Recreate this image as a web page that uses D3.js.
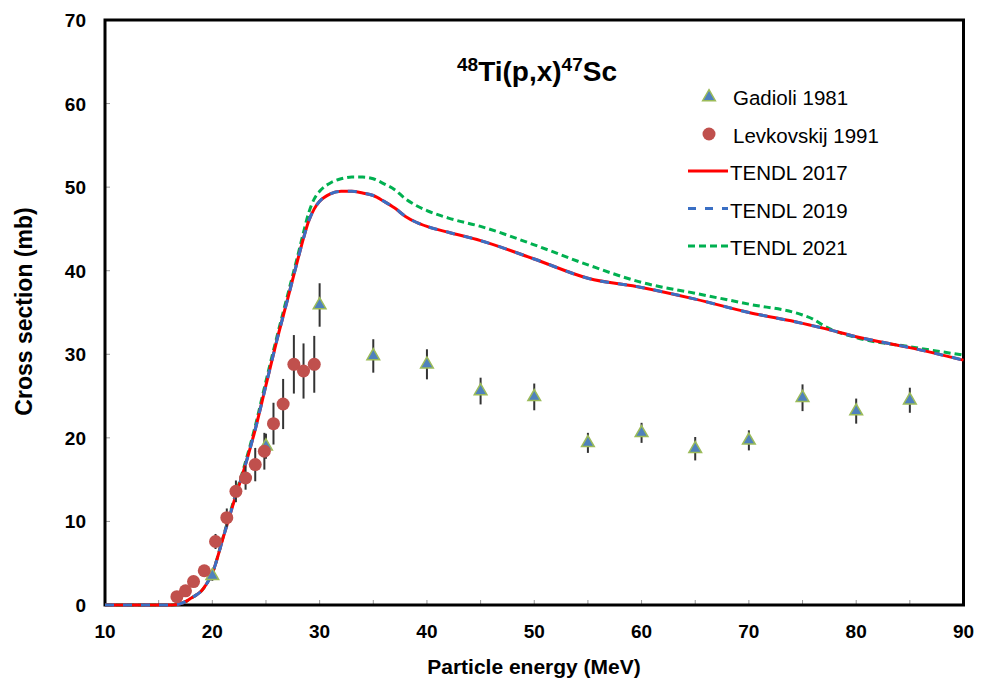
<!DOCTYPE html>
<html><head><meta charset="utf-8">
<script src="https://cdn.jsdelivr.net/npm/d3@7"></script>
<style>body{margin:0;background:#fff;} text{font-family:"Liberation Sans",Arial,sans-serif;}</style>
</head><body>
<svg id="chart" width="989" height="682"></svg>
<script>
// ---- data ----
const xTicks = [10,20,30,40,50,60,70,80,90];
const yTicks = [0,10,20,30,40,50,60,70];
const xMinorTicks = [15,20,25,30,35,40,45,50,55,60,65,70,75,80,85];

const gadioliE   = [20,25,30,35,40,45,50,55,60,65,70,75,80,85];
const gadioliXS  = [3.5,19.0,35.9,29.8,28.8,25.6,24.9,19.4,20.6,18.7,19.7,24.8,23.2,24.5];
const gadioliErr = [0.6,1.5,2.6,2.0,1.8,1.6,1.6,1.2,1.2,1.4,1.2,1.6,1.5,1.5];

const levkE   = [16.7,17.5,18.25,19.25,20.3,21.35,22.2,23.1,24.0,24.85,25.7,26.6,27.6,28.5,29.5];
const levkXS  = [1.0,1.7,2.8,4.1,7.6,10.45,13.6,15.2,16.8,18.4,21.7,24.05,28.8,28.0,28.8];
const levkErr = [0.3,0.3,0.3,0.3,0.9,1.1,1.3,1.4,2.0,2.2,2.5,3.0,3.5,3.3,3.4];

const tendlE    = [10,12,14,15,16,16.5,17,17.5,18,18.5,19,19.5,20,21,22,23,24,25,26,27,28,28.5,29,29.5,30,31,32,33,34,35,36,37,38,39,40,42,45,50,55,60,65,70,75,76,77,80,85,90];
const tendl2017 = [0,0,0,0,0,0.02,0.15,0.4,0.8,1.2,1.7,2.6,3.8,8.0,12.3,16.4,21.0,26.3,31.6,36.5,41.5,43.9,46.0,47.4,48.3,49.2,49.5,49.5,49.3,49.0,48.3,47.5,46.5,45.8,45.3,44.6,43.6,41.4,39.1,38.0,36.6,35.0,33.7,33.4,33.1,32.1,30.8,29.3];
const tendl2019 = [0,0,0,0,0,0.02,0.15,0.4,0.8,1.2,1.7,2.6,3.8,8.0,12.3,16.4,21.0,26.3,31.6,36.5,41.5,43.9,46.0,47.4,48.3,49.2,49.5,49.5,49.3,49.0,48.3,47.5,46.5,45.8,45.3,44.6,43.6,41.4,39.1,38.0,36.6,35.0,33.7,33.4,33.1,32.1,30.8,29.3];
const tendl2021 = [0,0,0,0,0,0.02,0.15,0.4,0.8,1.2,1.7,2.6,3.8,8.1,12.5,16.7,21.4,26.8,32.0,37.0,42.0,44.6,47.0,48.6,49.5,50.5,51.0,51.2,51.2,51.0,50.4,49.7,48.6,47.8,47.2,46.3,45.3,43.1,40.7,38.6,37.3,36.0,34.7,34.2,33.4,32.0,30.9,29.9];

// ---- layout ----
const svg = d3.select("#chart");
const L = 105, R = 963.5, T = 20, B = 605;
const x = d3.scaleLinear().domain([10,90]).range([L,R]);
const y = d3.scaleLinear().domain([0,70]).range([B,T]);

// minor ticks (inward, grey)
svg.append("g").selectAll("line").data(yTicks.slice(1,-1)).join("line")
  .attr("x1",L).attr("x2",L+5).attr("y1",d=>y(d)).attr("y2",d=>y(d))
  .attr("stroke","#999").attr("stroke-width",1);
svg.append("g").selectAll("line").data(xMinorTicks).join("line")
  .attr("x1",d=>x(d)).attr("x2",d=>x(d)).attr("y1",B).attr("y2",B-5)
  .attr("stroke","#999").attr("stroke-width",1);

// tick labels
svg.append("g").selectAll("text").data(yTicks).join("text")
  .attr("x",86).attr("y",d=>y(d)+7).attr("text-anchor","end")
  .attr("font-size",19).attr("font-weight","bold").text(d=>d);
svg.append("g").selectAll("text").data(xTicks).join("text")
  .attr("x",d=>x(d)).attr("y",638).attr("text-anchor","middle")
  .attr("font-size",19).attr("font-weight","bold").text(d=>d);

// axis titles
svg.append("text").attr("transform","translate(32,311.5) rotate(-90)")
  .attr("text-anchor","middle").attr("font-size",23).attr("font-weight","bold")
  .text("Cross section (mb)");
svg.append("text").attr("x",534).attr("y",674).attr("text-anchor","middle")
  .attr("font-size",21).attr("font-weight","bold").text("Particle energy (MeV)");

// title
const title = svg.append("text").attr("x",537).attr("y",81).attr("text-anchor","middle")
  .attr("font-size",28).attr("font-weight","bold");
title.append("tspan").attr("font-size",19).attr("dy",-10).text("48");
title.append("tspan").attr("dy",10).text("Ti(p,x)");
title.append("tspan").attr("font-size",19).attr("dy",-10).text("47");
title.append("tspan").attr("dy",10).text("Sc");

// frame
svg.append("rect").attr("x",L).attr("y",T).attr("width",R-L).attr("height",B-T)
  .attr("fill","none").attr("stroke","#000").attr("stroke-width",3);

// curves
const line = d3.line().x(d=>x(d[0])).y(d=>y(d[1])).curve(d3.curveMonotoneX);
const cg = svg.append("g");
cg.append("path").attr("d",line(tendlE.map((e,i)=>[e,tendl2021[i]])))
  .attr("fill","none").attr("stroke","#00B050").attr("stroke-width",3).attr("stroke-dasharray","7,4");
cg.append("path").attr("d",line(tendlE.map((e,i)=>[e,tendl2017[i]])))
  .attr("fill","none").attr("stroke","#FF0000").attr("stroke-width",3);
cg.append("path").attr("d",line(tendlE.map((e,i)=>[e,tendl2019[i]])))
  .attr("fill","none").attr("stroke","#3a6fc4").attr("stroke-width",3).attr("stroke-dasharray","9,9");

// error bars
const eb = svg.append("g").attr("stroke","#333").attr("stroke-width",2);
gadioliE.forEach((e,i)=>{
  eb.append("line").attr("x1",x(e)).attr("x2",x(e))
    .attr("y1",y(gadioliXS[i]-gadioliErr[i])).attr("y2",y(gadioliXS[i]+gadioliErr[i]));
});
levkE.forEach((e,i)=>{
  eb.append("line").attr("x1",x(e)).attr("x2",x(e))
    .attr("y1",y(levkXS[i]-levkErr[i])).attr("y2",y(levkXS[i]+levkErr[i]));
});

// markers
const tri = d3.symbol().type(d3.symbolTriangle).size(70);
svg.append("g").selectAll("path").data(gadioliE).join("path")
  .attr("d",tri).attr("transform",(d,i)=>`translate(${x(d)},${y(gadioliXS[i])})`)
  .attr("fill","#4F81BD").attr("stroke","#9BBB59").attr("stroke-width",1.5);
svg.append("g").selectAll("circle").data(levkE).join("circle")
  .attr("cx",d=>x(d)).attr("cy",(d,i)=>y(levkXS[i])).attr("r",6.5)
  .attr("fill","#C0504D");

// legend
const lg = svg.append("g");
lg.append("path").attr("d",d3.symbol().type(d3.symbolTriangle).size(70))
  .attr("transform","translate(709,97)").attr("fill","#4F81BD").attr("stroke","#9BBB59").attr("stroke-width",1.5);
lg.append("circle").attr("cx",709).attr("cy",134).attr("r",6.5).attr("fill","#C0504D");
lg.append("line").attr("x1",688).attr("x2",728).attr("y1",171).attr("y2",171).attr("stroke","#FF0000").attr("stroke-width",3);
lg.append("line").attr("x1",688).attr("x2",728).attr("y1",208.5).attr("y2",208.5).attr("stroke","#3a6fc4").attr("stroke-width",3).attr("stroke-dasharray","8,9");
lg.append("line").attr("x1",688).attr("x2",728).attr("y1",246).attr("y2",246).attr("stroke","#00B050").attr("stroke-width",3).attr("stroke-dasharray","7,4");
const labels = ["Gadioli 1981","Levkovskij 1991","TENDL 2017","TENDL 2019","TENDL 2021"];
const lx = [733,733,730,730,730];
const ly = [105,142.5,180,217.5,255];
lg.selectAll("text").data(labels).join("text")
  .attr("x",(d,i)=>lx[i]).attr("y",(d,i)=>ly[i]).attr("font-size",20.5).text(d=>d);
</script>
</body></html>
